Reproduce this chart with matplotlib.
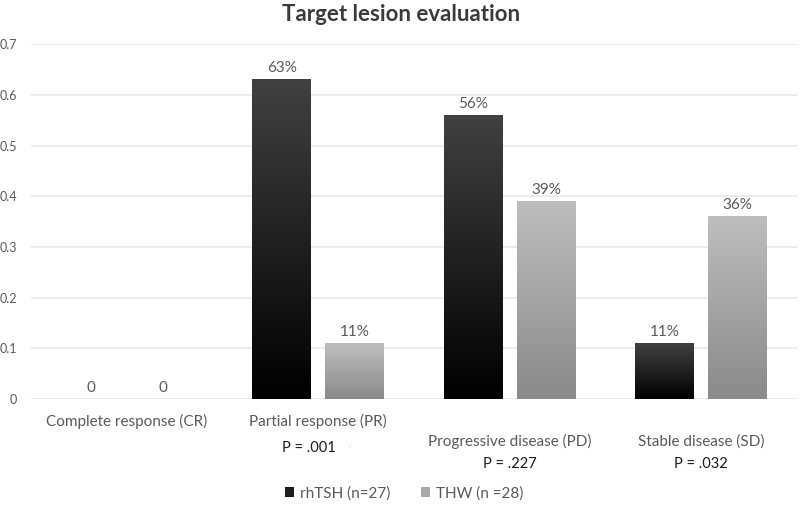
import numpy as np
import matplotlib
matplotlib.use('Agg')
import matplotlib.pyplot as plt
from matplotlib.colors import LinearSegmentedColormap
from matplotlib.patches import Patch

plt.rcParams['font.family'] = ['Lato', 'DejaVu Sans']

# Data
categories = ['Complete response (CR)', 'Partial response (PR)',
              'Progressive disease (PD)', 'Stable disease (SD)']
p_values = ['', 'P = .001', 'P = .227', 'P = .032']
rhtsh = [0, 0.63, 0.56, 0.11]
thw = [0, 0.11, 0.39, 0.36]
rhtsh_labels = ['0', '63%', '56%', '11%']
thw_labels = ['0', '11%', '39%', '36%']
series_names = ['rhTSH (n=27)', 'THW (n =28)']

text_col = '#595959'

fig = plt.figure(figsize=(8, 5.07), dpi=100)
ax = fig.add_axes([0.039, 0.213, 0.957, 0.700])

x = np.arange(len(categories))
w = 0.308
off = 0.19

bars1 = ax.bar(x - off, rhtsh, w, color='none')
bars2 = ax.bar(x + off, thw, w, color='none')

# gradient fills, top colour -> bottom colour, per bar
cm1 = LinearSegmentedColormap.from_list('dark', ['#000000', '#414141'])
cm2 = LinearSegmentedColormap.from_list('light', ['#8a8a8a', '#bebebe'])
grad = np.linspace(0, 1, 256).reshape(-1, 1)
for bars, cm in [(bars1, cm1), (bars2, cm2)]:
    for b in bars:
        h = b.get_height()
        if h <= 0:
            continue
        ax.imshow(grad, cmap=cm, aspect='auto', origin='lower',
                  extent=[b.get_x(), b.get_x() + b.get_width(), 0, h],
                  zorder=2)

# data labels
for bars, labs in [(bars1, rhtsh_labels), (bars2, thw_labels)]:
    for b, lab in zip(bars, labs):
        ax.annotate(lab, (b.get_x() + b.get_width() / 2, b.get_height()),
                    xytext=(0, 3), textcoords='offset points',
                    ha='center', va='bottom', fontsize=11, color=text_col)

ax.set_xlim(-0.5, len(categories) - 0.5)
ax.set_ylim(0, 0.7)
ax.set_yticks(np.arange(0, 0.71, 0.1))
ax.set_yticklabels(['0'] + ['%.1f' % v for v in np.arange(0.1, 0.71, 0.1)])
ax.tick_params(axis='y', length=0, pad=10, labelsize=9, labelcolor=text_col)
ax.set_xticks([])
ax.yaxis.grid(True, color='#e8e8e8', linewidth=1.2)
ax.set_axisbelow(True)
for s in ax.spines.values():
    s.set_visible(False)

# category labels (staggered like the original)
trans = ax.get_xaxis_transform()
label_y = [-0.063, -0.063, -0.120, -0.120]
p_y = [None, -0.138, -0.183, -0.183]
p_dx = [0, -0.05, 0, 0]
for i, cat in enumerate(categories):
    ax.text(x[i], label_y[i], cat, transform=trans, ha='center', va='center',
            fontsize=11, color=text_col)
    if p_values[i]:
        ax.text(x[i] + p_dx[i], p_y[i], p_values[i], transform=trans,
                ha='center', va='center', fontsize=10.5, color='#1a1a1a')

ax.text(0.415, -0.128, '.', transform=ax.transAxes, ha='center', va='center',
        fontsize=5, color='#aaaaaa')

fig.suptitle('Target lesion evaluation', fontsize=16, fontweight='bold',
             color='#3a3a3a', x=0.501, y=0.972, va='center')

handles = [Patch(facecolor='#1e1e1e'), Patch(facecolor='#a8a8a8')]
fig.legend(handles, series_names, loc='center', bbox_to_anchor=(0.505, 0.027),
           ncol=2, frameon=False, fontsize=11, labelcolor=text_col,
           handlelength=0.6, handleheight=0.6, handletextpad=0.4,
           columnspacing=2.0)

fig.savefig('out.png', dpi=100)
